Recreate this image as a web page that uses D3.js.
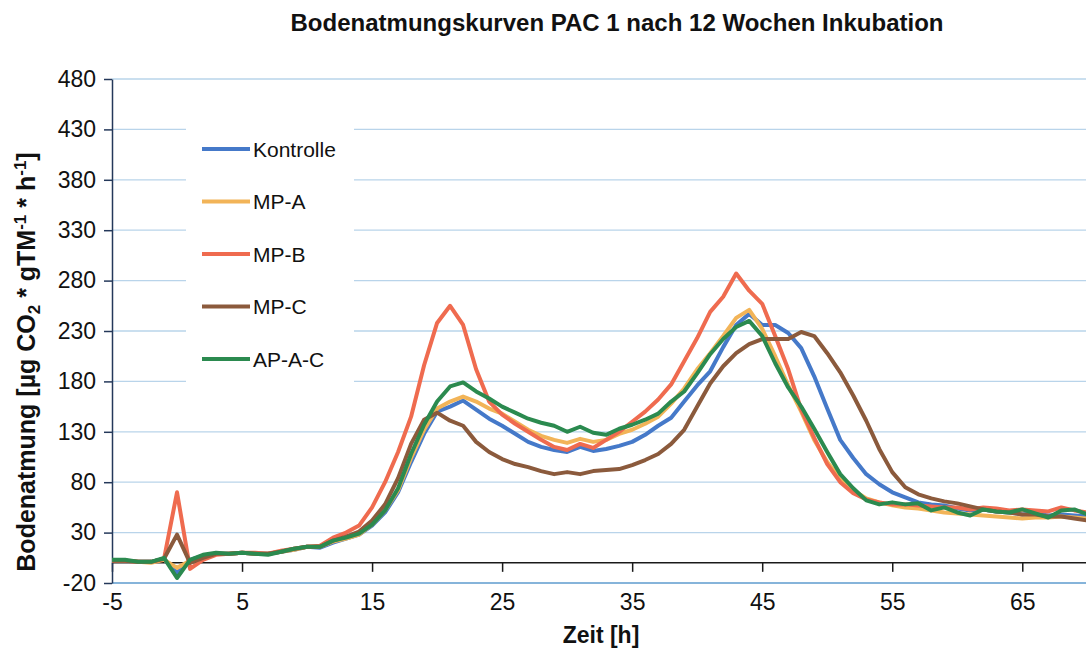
<!DOCTYPE html>
<html>
<head>
<meta charset="utf-8">
<script src="https://cdn.jsdelivr.net/npm/d3@7"></script>
<style>
  body { margin: 0; background: #fff; }
  svg { display: block; font-family: "Liberation Sans", Arial, sans-serif; }
  .grid line { stroke: #b9d4ea; stroke-width: 1.3; }
  .yaxis .domain, .yaxis .tick line { stroke: #24385a; stroke-width: 1.5; }
  .xaxis .domain, .xaxis .tick line { stroke: #1a1a1a; stroke-width: 1.5; }
  .tick text { font-size: 23px; fill: #111; }
  .series { fill: none; stroke-width: 4; stroke-linejoin: round; stroke-linecap: round; }
</style>
</head>
<body>
<svg id="chart" width="1086" height="651"></svg>
<script>
// x categories (hours) and tick labels
const hours = d3.range(-5, 71);
const xTicks = [-5, 5, 15, 25, 35, 45, 55, 65];
const yTicks = [-20, 30, 80, 130, 180, 230, 280, 330, 380, 430, 480];

// series, one value per hour from -5 to 70
const kontrolle = [2,2,1,1,4, -10,3,7,9,9, 10,9,9,11,13, 16,15,20,24,28, 37,50,70,100,128,
  150,155,161,152,143, 136,128,120,115,112, 110,115,111,113,116, 120,127,136,144,160,
  176,190,214,236,247, 236,236,228,213,185, 153,122,104,88,78, 70,65,60,58,57,
  54,52,53,51,50, 48,49,47,48,47, 46];
const mpA = [2,2,1,0,3, -5,2,7,9,9, 10,9,9,11,13, 16,16,21,24,28, 38,52,72,104,132,
  153,160,165,160,153, 148,140,132,126,122, 119,123,120,122,128, 132,138,145,158,173,
  192,208,225,243,251, 232,205,176,150,122, 100,84,72,64,60, 57,55,54,52,50,
  49,48,47,46,45, 44,45,45,46,45, 44];
const mpB = [2,2,1,1,4, 70,-6,3,8,9, 10,10,9,12,14, 16,17,25,30,37, 55,80,110,145,196,
  238,255,236,192,160, 147,138,130,122,115, 112,118,114,122,130, 140,150,162,177,200,
  223,249,264,287,270, 257,225,192,152,124, 98,80,69,63,60, 58,58,57,56,55,
  55,53,55,54,52, 53,52,51,55,52, 50];
const mpC = [2,2,1,1,4, 28,0,5,9,9, 10,9,9,11,14, 16,16,22,26,31, 42,58,84,118,142,
  149,141,136,120,110, 103,98,95,91,88, 90,88,91,92,93, 97,102,108,118,132,
  155,178,195,208,217, 222,222,222,229,225, 208,189,166,141,113, 90,75,68,64,61,
  59,56,53,51,50, 48,48,46,46,44, 42];
const apac = [3,3,1,1,5, -15,3,8,10,9, 10,9,8,11,14, 16,16,22,25,29, 38,52,74,108,137,
  160,175,179,170,163, 155,149,143,139,136, 130,135,129,127,133, 137,142,148,160,170,
  188,207,222,234,240, 225,198,174,155,133, 110,88,74,62,58, 60,58,59,52,55,
  50,47,53,51,50, 53,49,45,52,53, 48];

const seriesNames = ["Kontrolle", "MP-A", "MP-B", "MP-C", "AP-A-C"];
const seriesValues = [kontrolle, mpA, mpB, mpC, apac];
const seriesColors = ["#4579c9", "#f2b458", "#ef6b4f", "#8b5a3c", "#2b8a4f"];

const svg = d3.select("#chart");
const plot = { left: 112, right: 1086, top: 79, bottom: 583 };

const x = d3.scaleLinear().domain([-5, 69.9]).range([plot.left, plot.right]);
const y = d3.scaleLinear().domain([-20, 480]).range([plot.bottom, plot.top]);

svg.append("rect").attr("width", 1086).attr("height", 651).attr("fill", "#fff");

// gridlines
svg.append("g").attr("class", "grid")
  .selectAll("line")
  .data(yTicks.filter(d => d > -20))
  .join("line")
  .attr("x1", plot.left).attr("x2", plot.right)
  .attr("y1", d => y(d)).attr("y2", d => y(d));

// plot area bottom border
svg.append("line")
  .attr("x1", plot.left).attr("x2", plot.right)
  .attr("y1", plot.bottom).attr("y2", plot.bottom)
  .attr("stroke", "#86b4da").attr("stroke-width", 2.2);

// legend box covers the grid
svg.append("rect")
  .attr("x", 186).attr("y", 126).attr("width", 168).attr("height", 258)
  .attr("fill", "#fff");

// x axis crossing at 0
const xAxis = svg.append("g").attr("class", "xaxis")
  .attr("transform", `translate(0,${y(0)})`)
  .call(d3.axisBottom(x).tickValues(xTicks).tickSize(9).tickSizeOuter(0).tickFormat(""));
xAxis.select(".domain").attr("d", `M${plot.left},0H${plot.right}`);

// x labels below plot area (plain hyphen for minus)
const xLab = svg.append("g")
  .attr("transform", `translate(0,${plot.bottom})`)
  .call(d3.axisBottom(x).tickValues(xTicks).tickSize(0).tickPadding(11).tickFormat(d => String(d)));
xLab.select(".domain").remove();

// y axis
svg.append("g").attr("class", "yaxis")
  .attr("transform", `translate(${plot.left},0)`)
  .call(d3.axisLeft(y).tickValues(yTicks).tickSize(8).tickSizeOuter(0).tickPadding(8).tickFormat(d => String(d)));

// series
svg.append("clipPath").attr("id", "clip")
  .append("rect")
  .attr("x", plot.left).attr("y", plot.top - 10)
  .attr("width", plot.right - plot.left).attr("height", plot.bottom - plot.top + 20);

const line = d3.line().x((d, i) => x(hours[i])).y(d => y(d));

svg.append("g").attr("clip-path", "url(#clip)")
  .selectAll("path")
  .data(seriesValues)
  .join("path")
  .attr("class", "series")
  .attr("stroke", (d, i) => seriesColors[i])
  .attr("d", line);

// legend
const legend = svg.append("g")
  .selectAll("g")
  .data(seriesNames)
  .join("g")
  .attr("transform", (d, i) => `translate(202,${149 + i * 52.5})`);
legend.append("line")
  .attr("x1", 0).attr("x2", 48)
  .attr("stroke", (d, i) => seriesColors[i])
  .attr("stroke-width", 4);
legend.append("text")
  .attr("x", 51).attr("dy", "0.36em")
  .attr("font-size", 21).attr("fill", "#111")
  .text(d => d);

// title
svg.append("text")
  .attr("x", 617).attr("y", 31)
  .attr("text-anchor", "middle")
  .attr("font-size", 23).attr("font-weight", "bold").attr("fill", "#111")
  .attr("textLength", 653).attr("lengthAdjust", "spacingAndGlyphs")
  .text("Bodenatmungskurven PAC 1 nach 12 Wochen Inkubation");

// x title
svg.append("text")
  .attr("x", 601).attr("y", 643)
  .attr("text-anchor", "middle")
  .attr("font-size", 23).attr("font-weight", "bold").attr("fill", "#111")
  .text("Zeit [h]");

// y title with sub/superscripts
const yTitle = svg.append("text")
  .attr("transform", "translate(35,362) rotate(-90)")
  .attr("text-anchor", "middle")
  .attr("font-size", 25).attr("font-weight", "bold").attr("fill", "#111");
yTitle.append("tspan").text("Bodenatmung [µg CO");
yTitle.append("tspan").attr("font-size", 17).attr("dy", 5).text("2");
yTitle.append("tspan").attr("dy", -5).text(" * gTM");
yTitle.append("tspan").attr("font-size", 17).attr("dy", -9).text("-1");
yTitle.append("tspan").attr("dy", 9).text(" * h");
yTitle.append("tspan").attr("font-size", 17).attr("dy", -9).text("-1");
yTitle.append("tspan").attr("dy", 9).text("]");
</script>
</body>
</html>
